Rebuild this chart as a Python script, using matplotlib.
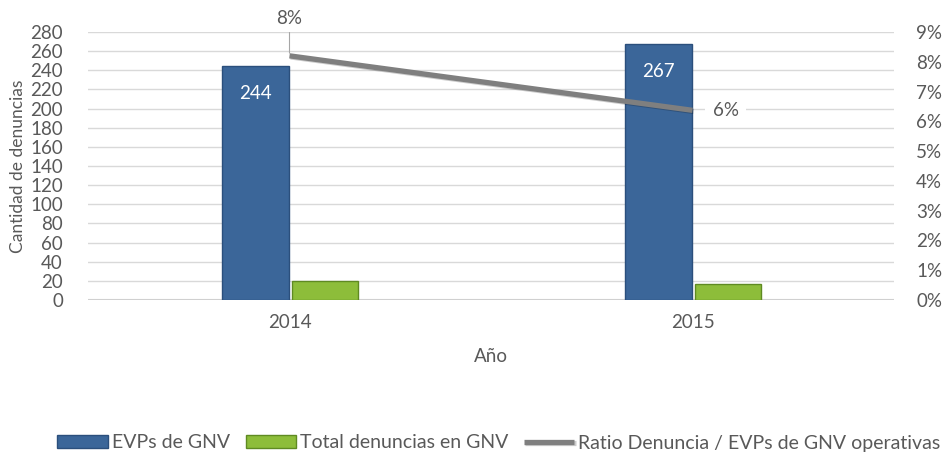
import matplotlib
matplotlib.use("Agg")
import matplotlib.pyplot as plt
import matplotlib.patheffects as pe
from matplotlib.ticker import FuncFormatter, MultipleLocator
import numpy as np

years = ["2014", "2015"]
evps = [244, 267]
denuncias = [20, 17]
ratio = [0.082, 0.0637]
ratio_labels = ["8%", "6%"]

plt.rcParams['font.family'] = ['Lato', 'DejaVu Sans']
txt = '#595959'
fs = 13.5

fig = plt.figure(figsize=(9.45, 4.55), dpi=100)
ax = fig.add_axes([88/945, 1-300/455, (894-88)/945, (300-32)/455])
ax2 = ax.twinx()

x = np.arange(len(years))
w = 0.166
b1 = ax.bar(x - 0.084, evps, w, color='#3b6699', edgecolor='#2b4f7c', linewidth=1, zorder=3,
            label='EVPs de GNV')
b2 = ax.bar(x + 0.088, denuncias, w, color='#8dbd3a', edgecolor='#5f8a22', linewidth=1, zorder=3,
            label='Total denuncias en GNV')
for xi, v in zip(x, evps):
    ax.text(xi - 0.084, v - 19, str(v), ha='center', va='top', color='white', fontsize=fs, zorder=5)

ax.set_ylim(0, 280)
ax.set_xlim(-0.5, 1.5)
ax.yaxis.set_major_locator(MultipleLocator(20))
ax.grid(axis='y', color='#d9d9d9', linewidth=1, zorder=0)
ax.set_axisbelow(True)
ax.set_xticks(x)
ax.set_xticklabels(years)
ax.tick_params(axis='both', length=0, colors=txt, labelsize=fs)
ax.tick_params(axis='x', pad=10)
ax.tick_params(axis='y', pad=18)
for s in ax.spines.values():
    s.set_visible(False)
ax.axhline(0, color='#d0d0d0', linewidth=1.5, zorder=2)
ax.set_ylabel('Cantidad de denuncias', color=txt, fontsize=12.5, labelpad=3)
ax.set_xlabel('Año', color=txt, fontsize=fs, labelpad=12)

ln, = ax2.plot(x, ratio, color='#7f7f7f', linewidth=3.8, solid_capstyle='butt', zorder=4,
               label='Ratio Denuncia / EVPs de GNV operativas',
               path_effects=[pe.SimpleLineShadow(offset=(0.8, -0.8), alpha=0.2), pe.Normal()])
ax2.set_ylim(0, 0.09)
ax2.yaxis.set_major_locator(MultipleLocator(0.01))
ax2.yaxis.set_major_formatter(FuncFormatter(lambda v, p: f"{v*100:.0f}%"))
ax2.tick_params(axis='y', length=0, colors=txt, labelsize=fs, pad=16)
for s in ax2.spines.values():
    s.set_visible(False)

ax2.annotate(ratio_labels[0], (x[0], ratio[0]), xytext=(0, 27), textcoords='offset points',
             ha='center', va='center', color=txt, fontsize=fs,
             bbox=dict(boxstyle='square,pad=0.3', fc='white', ec='none'),
             arrowprops=dict(arrowstyle='-', color='#a6a6a6', lw=0.8, shrinkA=0, shrinkB=2))
ax2.annotate(ratio_labels[1], (x[1], ratio[1]), xytext=(24, 0), textcoords='offset points',
             ha='center', va='center', color=txt, fontsize=fs,
             bbox=dict(boxstyle='square,pad=0.4', fc='white', ec='none'), zorder=6)

fig.legend(handles=[b1, b2, ln], loc='center', bbox_to_anchor=(499/945, 1-443/455), ncol=3,
           frameon=False, fontsize=14, labelcolor=txt, handlelength=2.6, handleheight=0.6,
           handletextpad=0.2, columnspacing=0.8, borderpad=0.2)

fig.savefig('out.png', dpi=100)
